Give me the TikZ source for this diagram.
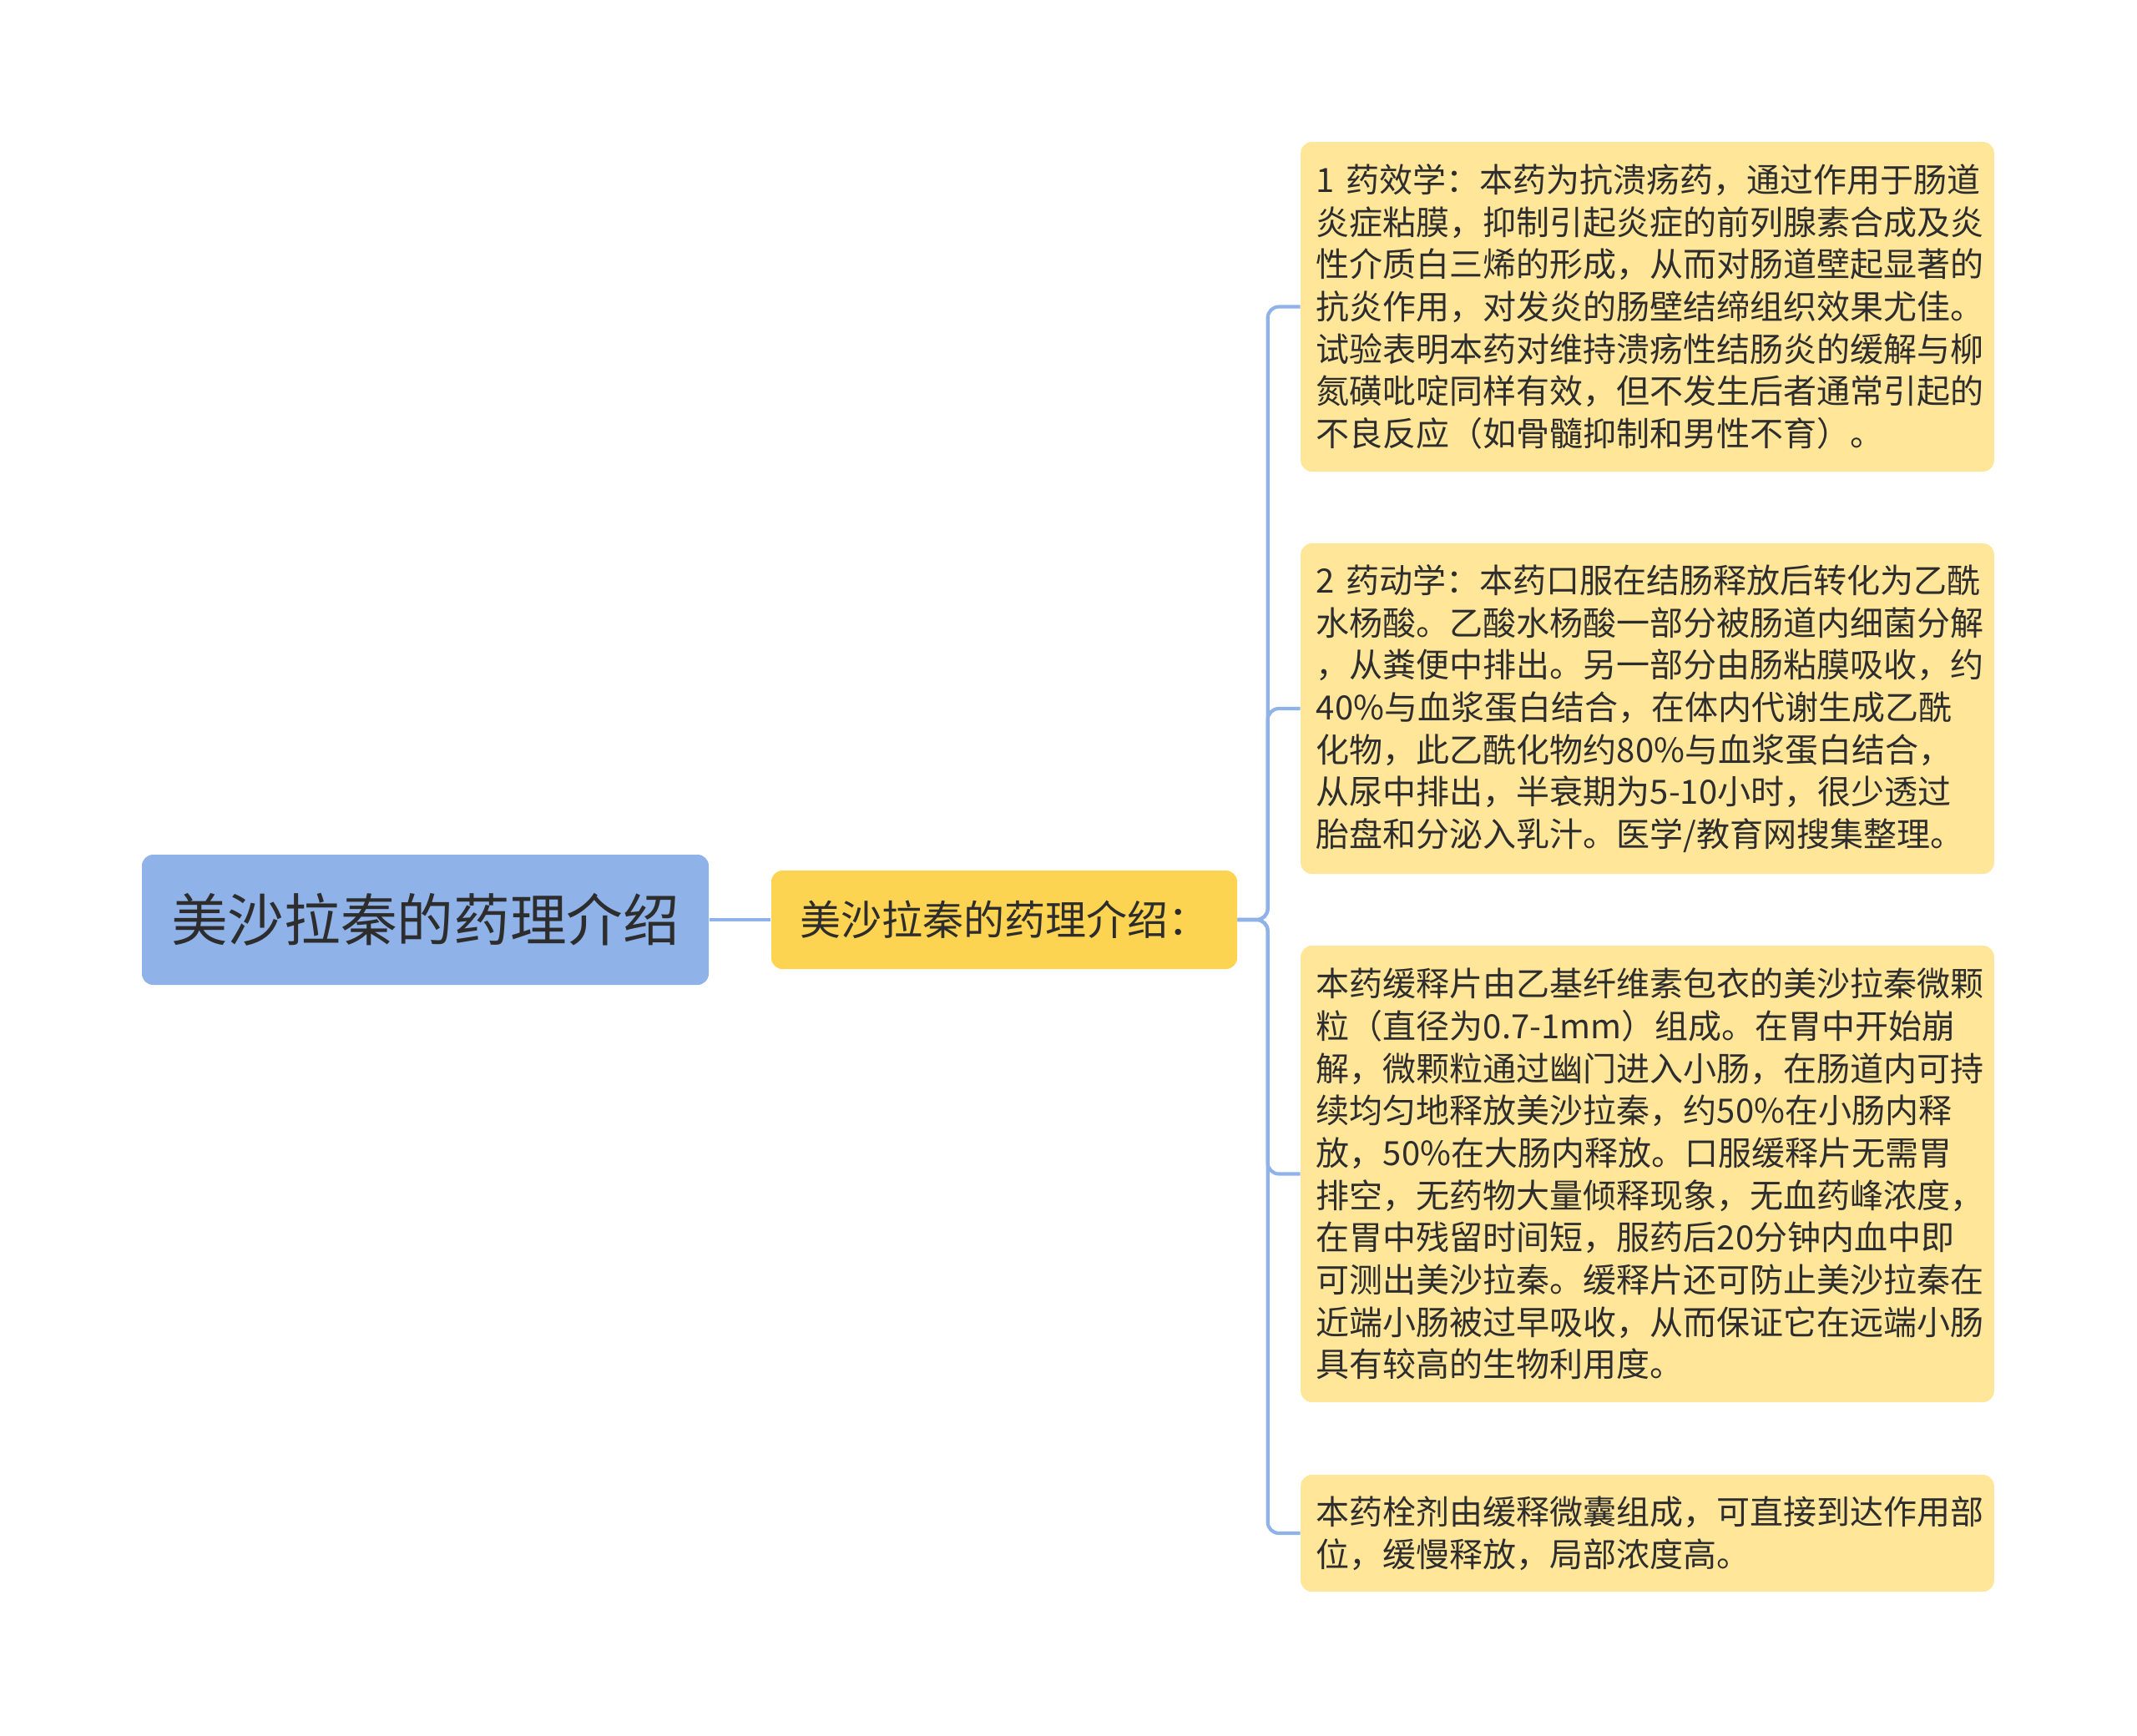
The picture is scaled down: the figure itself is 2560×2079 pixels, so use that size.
\documentclass[tikz,border=0pt]{standalone}
\usepackage{fontspec}
\setmainfont{Noto Sans CJK SC}
\usepackage{xcolor}
\usepackage{tikz}
\definecolor{mapblue}{RGB}{143, 179, 233}
\definecolor{mapgold}{RGB}{253, 211, 82}
\definecolor{mapcream}{RGB}{255, 230, 153}
\definecolor{maptext}{RGB}{45, 45, 45}
\usetikzlibrary{positioning,calc}

\begin{document}
\begin{tikzpicture}[x=0.3pt, y=-0.3pt]
    \tikzstyle{rootbox} = [rectangle, rounded corners=4pt, fill=mapblue, text=maptext,
                           minimum width=203.7pt, minimum height=46.8pt,
                           font=\fontsize{20.3}{24}\selectfont]
    \tikzstyle{subbox} = [rectangle, rounded corners=4pt, fill=mapgold, text=maptext,
                          minimum width=167.4pt, minimum height=35.4pt,
                          font=\fontsize{14.7}{18}\selectfont]
    \tikzstyle{leaf} = [rectangle, rounded corners=4pt, fill=mapcream, text=maptext,
                        text width=238pt, align=left, inner xsep=5.6pt,
                        font=\fontsize{12}{15.2}\selectfont]
    \tikzstyle{link} = [draw=mapblue, line width=1.25pt, rounded corners=4pt]

    \useasboundingbox (0,0) rectangle (2560,2079);

    % Root and first level
    \node[rootbox] (root) at (509.5,1102) {美沙拉秦的药理介绍};
    \node[subbox] (sub) at (1203,1102) {美沙拉秦的药理介绍：};

    % Leaves
    \node[leaf, minimum height=118.5pt] (l1) at (1973.5,367.5) {1~药效学：本药为抗溃疡药，通过作用于肠道\\炎症粘膜，抑制引起炎症的前列腺素合成及炎\\性介质白三烯的形成，从而对肠道壁起显著的\\抗炎作用，对发炎的肠壁结缔组织效果尤佳。\\试验表明本药对维持溃疡性结肠炎的缓解与柳\\氮磺吡啶同样有效，但不发生后者通常引起的\\不良反应（如骨髓抑制和男性不育）。};
    \node[leaf, minimum height=118.8pt] (l2) at (1973.5,849) {2~药动学：本药口服在结肠释放后转化为乙酰\\水杨酸。乙酸水杨酸一部分被肠道内细菌分解\\，从粪便中排出。另一部分由肠粘膜吸收，约\\40\%与血浆蛋白结合，在体内代谢生成乙酰\\化物，此乙酰化物约80\%与血浆蛋白结合，\\从尿中排出，半衰期为5-10小时，很少透过\\胎盘和分泌入乳汁。医学/教育网搜集整理。};
    \node[leaf, minimum height=164.1pt] (l3) at (1973.5,1406.5) {本药缓释片由乙基纤维素包衣的美沙拉秦微颗\\粒（直径为0.7-1mm）组成。在胃中开始崩\\解，微颗粒通过幽门进入小肠，在肠道内可持\\续均匀地释放美沙拉秦，约50\%在小肠内释\\放，50\%在大肠内释放。口服缓释片无需胃\\排空，无药物大量倾释现象，无血药峰浓度，\\在胃中残留时间短，服药后20分钟内血中即\\可测出美沙拉秦。缓释片还可防止美沙拉秦在\\近端小肠被过早吸收，从而保证它在远端小肠\\具有较高的生物利用度。};
    \node[leaf, minimum height=42pt] (l4) at (1973.5,1837) {本药栓剂由缓释微囊组成，可直接到达作用部\\位，缓慢释放，局部浓度高。};

    % Connectors
    \draw[link] (root) -- (sub);
    \draw[link] (sub.east) -- ++(36,0) |- (l1.west);
    \draw[link] (sub.east) -- ++(36,0) |- (l2.west);
    \draw[link] (sub.east) -- ++(36,0) |- (l3.west);
    \draw[link] (sub.east) -- ++(36,0) |- (l4.west);
\end{tikzpicture}
\end{document}
